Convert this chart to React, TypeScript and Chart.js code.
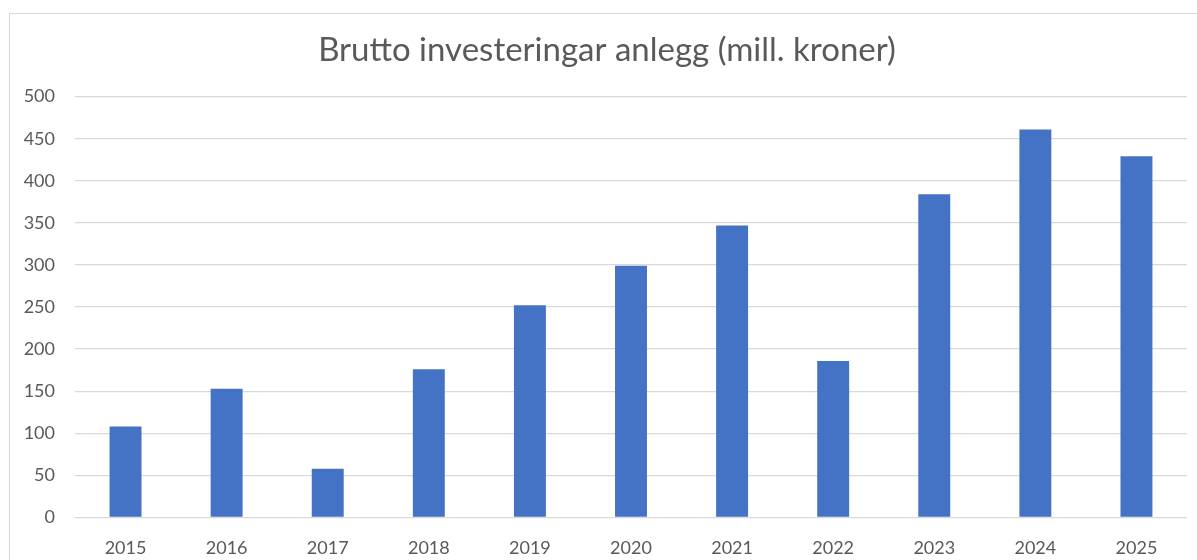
import React, { useEffect, useRef } from "react";
import { Chart, registerables } from "chart.js";

Chart.register(...registerables);

const categories = ["2015", "2016", "2017", "2018", "2019", "2020", "2021", "2022", "2023", "2024", "2025"];
const values = [108, 153, 58, 176, 252, 299, 347, 186, 384, 461, 429];
const titleText = "Brutto investeringar anlegg (mill. kroner)";
const yMin = 0;
const yMax = 500;
const yStep = 50;

export default function App() {
  const ref = useRef<HTMLCanvasElement | null>(null);

  useEffect(() => {
    if (!ref.current) return;
    const chart = new Chart(ref.current, {
      type: "bar",
      data: {
        labels: categories,
        datasets: [
          {
            data: values,
            backgroundColor: "#4472C4",
            borderWidth: 0,
            barPercentage: 0.316,
            categoryPercentage: 1,
          },
        ],
      },
      options: {
        animation: false,
        responsive: false,
        maintainAspectRatio: false,
        layout: { padding: { left: 17, right: 0, top: 0, bottom: 0 } },
        plugins: {
          legend: { display: false },
          tooltip: { enabled: false },
          title: {
            display: true,
            text: titleText,
            color: "#595959",
            font: { family: "Lato", size: 33, weight: "normal" },
            padding: { top: 31, bottom: 26 },
          },
        },
        scales: {
          x: {
            grid: { display: false },
            border: { display: false },
            ticks: {
              color: "#595959",
              font: { family: "Lato", size: 18 },
              padding: 12,
              maxRotation: 0,
            },
            afterFit: (s: any) => {
              s.height = 42.5;
            },
          },
          y: {
            min: yMin,
            max: yMax,
            grid: { color: "#d9d9d9", lineWidth: 1.3, drawTicks: false },
            border: { display: false },
            ticks: {
              stepSize: yStep,
              color: "#595959",
              font: { family: "Lato", size: 18 },
              padding: 20,
            },
            afterFit: (s: any) => {
              s.width = 58;
            },
          },
          y2: {
            position: "right",
            display: true,
            grid: { display: false },
            border: { display: false },
            ticks: { display: false },
            afterFit: (s: any) => {
              s.width = 10;
            },
          },
        },
      },
    });
    return () => chart.destroy();
  }, []);

  return (
    <div
      style={{
        position: "fixed",
        left: 0,
        top: 0,
        width: 1197,
        height: 560,
        overflow: "hidden",
        background: "#ffffff",
      }}
    >
      <div
        style={{
          position: "absolute",
          left: 9,
          top: 13,
          width: 1300,
          height: 700,
          border: "1px solid #d9d9d9",
          boxSizing: "border-box",
        }}
      />
      <canvas
        ref={ref}
        width={1197}
        height={560}
        style={{ position: "absolute", left: 0, top: 0, width: 1197, height: 560 }}
      />
    </div>
  );
}
